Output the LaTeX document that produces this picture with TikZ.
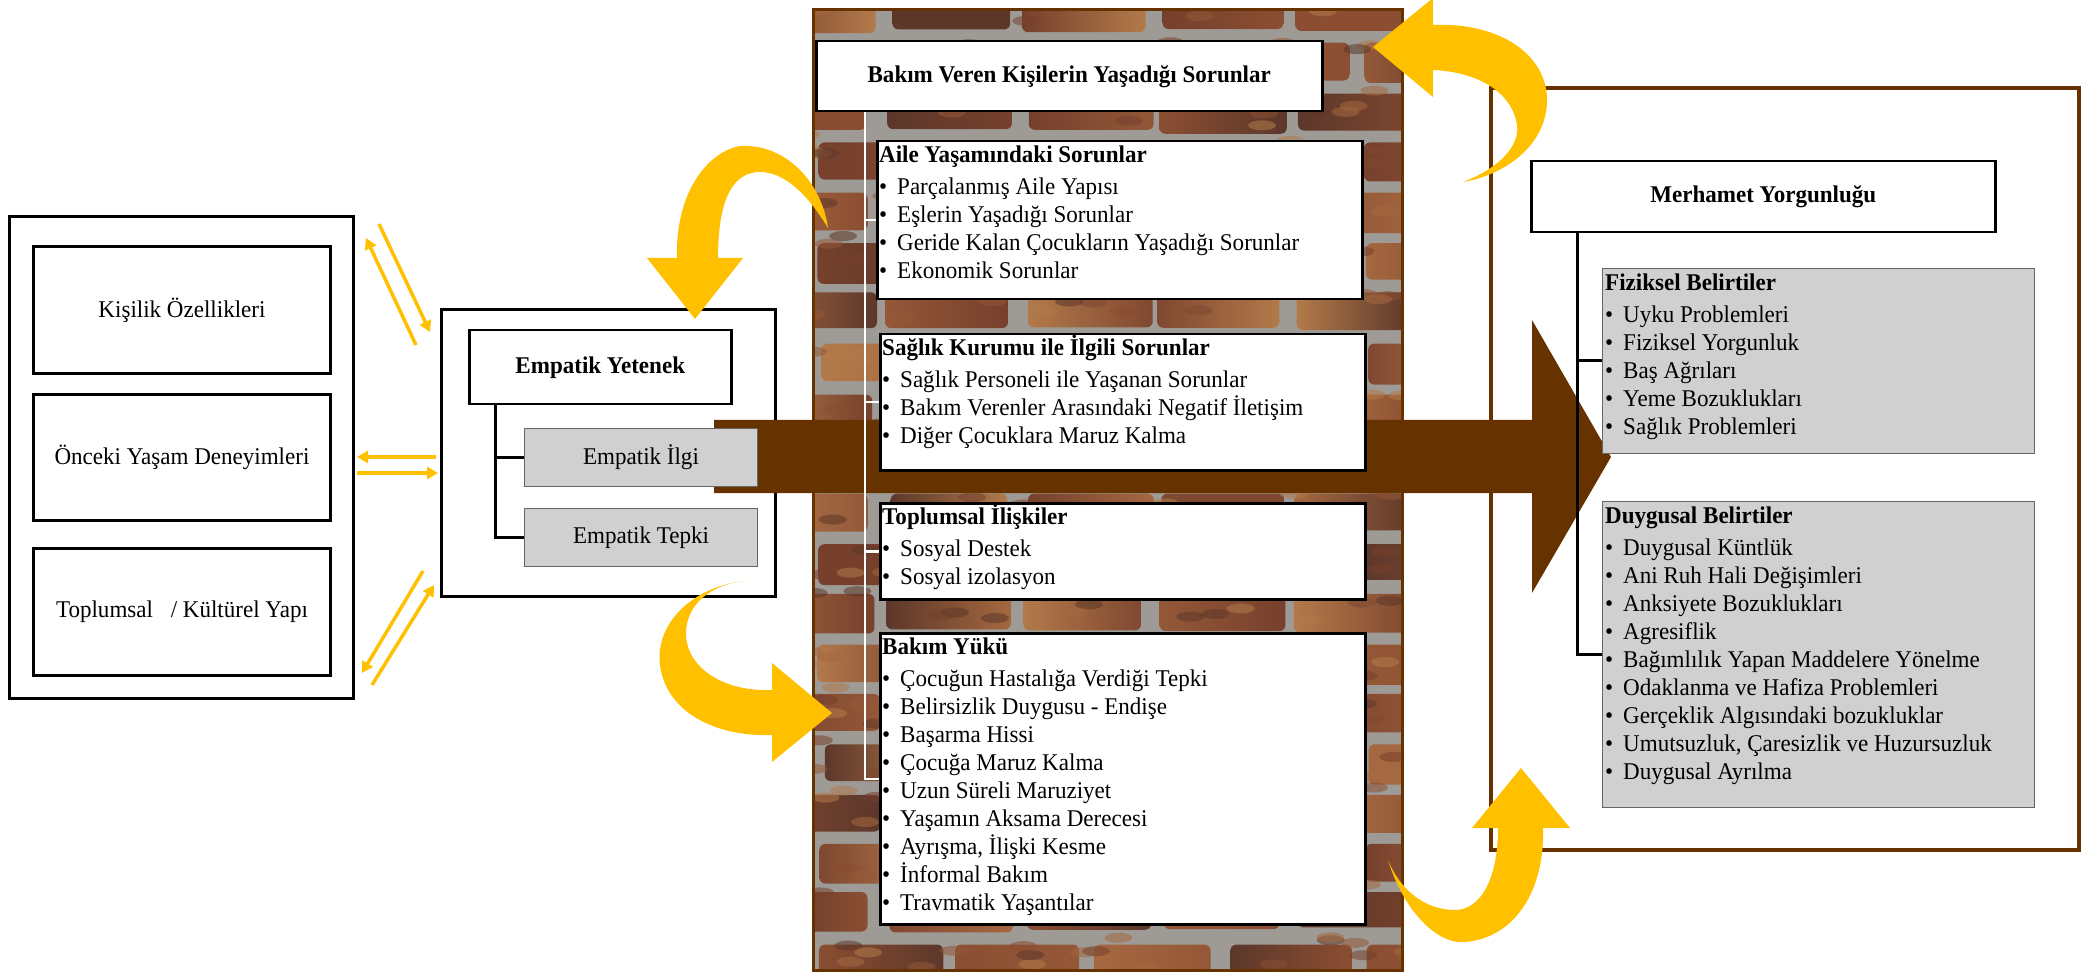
\documentclass[tikz,border=0pt]{standalone}
\usepackage{fontspec}
\setmainfont{Liberation Serif}[FakeStretch=0.96]
\usetikzlibrary{arrows.meta}

\definecolor{gold}{RGB}{255,192,0}
\definecolor{umber}{RGB}{102,51,0}
\definecolor{mortar}{RGB}{158,155,150}
\definecolor{brick1}{RGB}{139,78,50}
\definecolor{brick2}{RGB}{118,64,44}
\definecolor{brick3}{RGB}{165,104,64}
\definecolor{brick4}{RGB}{92,55,42}
\definecolor{brick5}{RGB}{148,88,56}
\definecolor{brick6}{RGB}{128,72,48}
\definecolor{brick7}{RGB}{178,122,74}
\definecolor{panelgray}{RGB}{208,208,208}

\newcommand\itm{\makebox[18pt][l]{•}}
\newcommand\firstline{\rule{0pt}{22.5pt}}

\tikzset{
  frame/.style={draw, line width=3pt, inner sep=0pt, anchor=north west, fill=white},
  thinframe/.style={draw, line width=2.5pt, inner sep=0pt, anchor=north west, fill=white},
  graybox/.style={draw=gray!80!black, line width=1pt, inner sep=0pt, anchor=north west, fill=panelgray},
  listtext/.style={anchor=north west, align=left, inner xsep=3pt, inner ysep=0pt},
  tree/.style={line width=3pt},
  whitetree/.style={white, line width=2.5pt},
  ylink/.style={gold, line width=3.5pt, -{Triangle[length=11pt,width=12pt]}},
}

\begin{document}
\begin{tikzpicture}[x=1pt, y=-1pt, font=\fontsize{24}{28}\selectfont]
\useasboundingbox (0,0) rectangle (2089,973);

% ---------- brick wall panel ----------
\begin{scope}
  \clip (813,10) rectangle (1402,970);
  \fill[mortar] (813,10) rectangle (1402,970);
  \pgfmathsetseed{11}
  \foreach \r in {0,...,19}{
    \pgfmathsetmacro{\yy}{-8+50*\r+rnd*3}
    \pgfmathsetmacro{\xo}{mod(\r,2)*68-60}
    \foreach \c in {0,...,5}{
      \pgfmathsetmacro{\xx}{813+\xo+136*\c+rnd*8-4}
      \pgfmathsetmacro{\ww}{114+rnd*14}
      \pgfmathsetmacro{\hh}{35+rnd*6}
      \pgfmathrandominteger{\k}{1}{7}
      \pgfmathrandominteger{\j}{1}{7}
      \shade[left color=brick\k, right color=brick\j, rounded corners=6pt]
        (\xx,\yy) rectangle ++(\ww,\hh);
      \foreach \s in {1,...,4}{
        \pgfmathrandominteger{\m}{1}{7}
        \fill[fill=brick\m, opacity=0.55]
          (\xx+14+rnd*\ww-28, \yy+8+rnd*\hh-16) ellipse[x radius=14pt, y radius=5pt];
      }
    }
  }
\end{scope}
\draw[umber, line width=3pt] (813,10) rectangle (1402,970);

% ---------- left column ----------
\node[frame, minimum width=344, minimum height=482] (leftbox) at (8,215) {};
\node[frame, minimum width=297, minimum height=127] (kisilik) at (32,245) {Kişilik Özellikleri};
\node[frame, minimum width=297, minimum height=126] (onceki) at (32,393) {Önceki Yaşam Deneyimleri};
\node[frame, minimum width=297, minimum height=127] (kultur) at (32,547) {Toplumsal\hspace{0.5em} / Kültürel Yapı};

% ---------- empathy box ----------
\node[frame, minimum width=334, minimum height=287] (empbox) at (440,308) {};

% ---------- right frame ----------
\node[draw=umber, line width=4pt, inner sep=0pt, anchor=north west,
      minimum width=588, minimum height=762] (rightbox) at (1489,86) {};

% ---------- main brown arrow ----------
\fill[umber] (714,420) -- (1532,420) -- (1532,320) -- (1611,457)
  -- (1532,593) -- (1532,493) -- (714,493) -- cycle;

% ---------- empathy contents ----------
\node[thinframe, minimum width=262, minimum height=74] (yetenek) at (468,329) {\textbf{Empatik Yetenek}};
\node[graybox, minimum width=233, minimum height=58] (ilgi) at (524,428) {Empatik İlgi};
\node[graybox, minimum width=233, minimum height=58] (tepki) at (524,508) {Empatik Tepki};
\draw[tree] ([xshift=27pt]yetenek.south west) |- (ilgi.west);
\draw[tree] ([xshift=27pt]yetenek.south west) |- (tepki.west);

% ---------- caregiver problems ----------
\node[thinframe, minimum width=506, minimum height=70] (bakim) at (815,40)
  {\textbf{Bakım Veren Kişilerin Yaşadığı Sorunlar}};
\node[thinframe, minimum width=485, minimum height=158] (aile) at (876,140) {};
\node[thinframe, minimum width=485, minimum height=136] (saglik) at (879,333) {};
\node[thinframe, minimum width=485, minimum height=96] (iliski) at (879,502) {};
\node[thinframe, minimum width=485, minimum height=291] (yuk) at (879,632) {};

\draw[whitetree] ([xshift=50pt]bakim.south west) |- (aile.west);
\draw[whitetree] ([xshift=50pt]bakim.south west) |- (saglik.west);
\draw[whitetree] ([xshift=50pt]bakim.south west) |- (iliski.west);
\draw[whitetree] ([xshift=50pt]bakim.south west) |- (yuk.west);

\node[listtext] (ailetxt) at (aile.north west) {\firstline\textbf{Aile Yaşamındaki Sorunlar}\\[4pt]
  \itm Parçalanmış Aile Yapısı\\
  \itm Eşlerin Yaşadığı Sorunlar\\
  \itm Geride Kalan Çocukların Yaşadığı Sorunlar\\
  \itm Ekonomik Sorunlar};
\node[listtext] (sagliktxt) at (saglik.north west) {\firstline\textbf{Sağlık Kurumu ile İlgili Sorunlar}\\[4pt]
  \itm Sağlık Personeli ile Yaşanan Sorunlar\\
  \itm Bakım Verenler Arasındaki Negatif İletişim\\
  \itm Diğer Çocuklara Maruz Kalma};
\node[listtext] (iliskitxt) at (iliski.north west) {\firstline\textbf{Toplumsal İlişkiler}\\[4pt]
  \itm Sosyal Destek\\
  \itm Sosyal izolasyon};
\node[listtext] (yuktxt) at (yuk.north west) {\firstline\textbf{Bakım Yükü}\\[4pt]
  \itm Çocuğun Hastalığa Verdiği Tepki\\
  \itm Belirsizlik Duygusu - Endişe\\
  \itm Başarma Hissi\\
  \itm Çocuğa Maruz Kalma\\
  \itm Uzun Süreli Maruziyet\\
  \itm Yaşamın Aksama Derecesi\\
  \itm Ayrışma, İlişki Kesme\\
  \itm İnformal Bakım\\
  \itm Travmatik Yaşantılar};

% ---------- compassion fatigue ----------
\node[thinframe, minimum width=464, minimum height=71] (merhamet) at (1530,160) {\textbf{Merhamet Yorgunluğu}};
\node[graybox, minimum width=432, minimum height=185] (fizik) at (1602,268) {};
\node[graybox, minimum width=432, minimum height=306] (duygu) at (1602,501) {};
\draw[tree] ([xshift=47pt]merhamet.south west) |- (fizik.west);
\draw[tree] ([xshift=47pt]merhamet.south west) |- (duygu.west);

\node[listtext] (fiziktxt) at (fizik.north west) {\firstline\textbf{Fiziksel Belirtiler}\\[4pt]
  \itm Uyku Problemleri\\
  \itm Fiziksel Yorgunluk\\
  \itm Baş Ağrıları\\
  \itm Yeme Bozuklukları\\
  \itm Sağlık Problemleri};
\node[listtext] (duygutxt) at (duygu.north west) {\firstline\textbf{Duygusal Belirtiler}\\[4pt]
  \itm Duygusal Küntlük\\
  \itm Ani Ruh Hali Değişimleri\\
  \itm Anksiyete Bozuklukları\\
  \itm Agresiflik\\
  \itm Bağımlılık Yapan Maddelere Yönelme\\
  \itm Odaklanma ve Hafiza Problemleri\\
  \itm Gerçeklik Algısındaki bozukluklar\\
  \itm Umutsuzluk, Çaresizlik ve Huzursuzluk\\
  \itm Duygusal Ayrılma};

% ---------- two-way links between left column and empathy box ----------
\coordinate (a1s) at (416,345); \coordinate (a1e) at (366,238);
\coordinate (a2s) at (379,224); \coordinate (a2e) at (430,332);
\coordinate (b1s) at (436,457); \coordinate (b1e) at (357,457);
\coordinate (b2s) at (357,473); \coordinate (b2e) at (438,473);
\coordinate (c1s) at (423,571); \coordinate (c1e) at (362,673);
\coordinate (c2s) at (372,685); \coordinate (c2e) at (434,585);
\draw[ylink] (a1s) -- (a1e);
\draw[ylink] (a2s) -- (a2e);
\draw[ylink] (b1s) -- (b1e);
\draw[ylink] (b2s) -- (b2e);
\draw[ylink] (c1s) -- (c1e);
\draw[ylink] (c2s) -- (c2e);

% ---------- curved feedback arrows ----------
% wall -> empathy (top left)
\fill[gold] (677,258) .. controls (675,180) and (720,143) .. (748,146)
  .. controls (790,148) and (822,185) .. (828,228)
  .. controls (808,195) and (785,172) .. (760,172)
  .. controls (735,172) and (718,195) .. (718,258)
  -- (743,258) -- (695,319) -- (647,258) -- cycle;
% empathy -> wall (bottom left)
\fill[gold] (743,581) .. controls (690,588) and (655,625) .. (660,665)
  .. controls (666,712) and (715,737) .. (772,735)
  -- (772,762) -- (832,713) -- (772,663) -- (772,690)
  .. controls (720,692) and (685,665) .. (686,632)
  .. controls (687,603) and (712,585) .. cycle;
% fatigue -> wall (top right)
\fill[gold] (1433,25) .. controls (1500,22) and (1547,55) .. (1547,100)
  .. controls (1547,145) and (1505,175) .. (1463,182)
  .. controls (1500,168) and (1520,145) .. (1517,125)
  .. controls (1512,92) and (1478,72) .. (1433,70)
  -- (1433,97) -- (1373,47) -- (1433,-2) -- cycle;
% wall -> fatigue (bottom right)
\fill[gold] (1388,860) .. controls (1405,915) and (1440,945) .. (1465,942)
  .. controls (1515,938) and (1545,890) .. (1543,828)
  -- (1570,828) -- (1521,768) -- (1472,828) -- (1498,828)
  .. controls (1498,880) and (1480,910) .. (1455,910)
  .. controls (1425,910) and (1400,890) .. cycle;
\end{tikzpicture}
\end{document}
